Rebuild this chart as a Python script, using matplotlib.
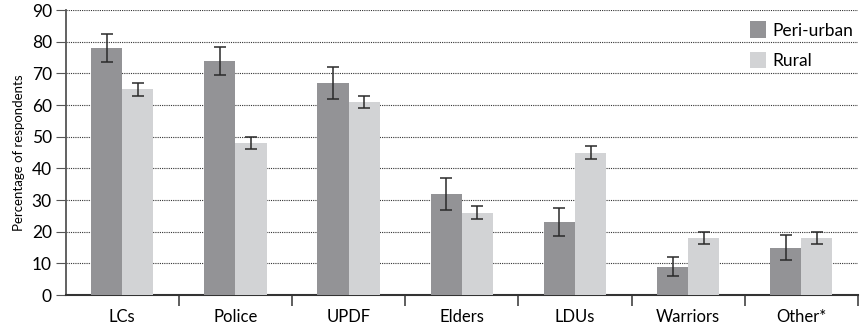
import numpy as np
import matplotlib.pyplot as plt
from matplotlib.ticker import FixedLocator, NullFormatter

categories = ['LCs', 'Police', 'UPDF', 'Elders', 'LDUs', 'Warriors', 'Other*']
peri_urban = [78, 74, 67, 32, 23, 9, 15]
peri_urban_err = [4.5, 4.5, 5, 5, 4.5, 3, 4]
rural = [65, 48, 61, 26, 45, 18, 18]
rural_err = [2, 2, 2, 2, 2, 2, 2]

plt.rcParams['font.family'] = ['Lato', 'DejaVu Sans']

fig = plt.figure(figsize=(8.64, 3.26), dpi=100)
ax = fig.add_axes([0.076, 0.095, 0.917, 0.874])

x = np.arange(len(categories))
w = 0.275
err_kw = dict(ecolor='#2a2a2a', elinewidth=1.1, capsize=4.5, capthick=1.1)
ax.bar(x - w / 2, peri_urban, w, yerr=peri_urban_err, color='#939396',
       label='Peri-urban', error_kw=err_kw, zorder=3)
ax.bar(x + w / 2, rural, w, yerr=rural_err, color='#d2d3d5',
       label='Rural', error_kw=err_kw, zorder=3)

ax.set_xlim(-0.5, len(categories) - 0.5)
ax.set_ylim(0, 90)
ax.set_yticks(range(0, 91, 10))
ax.yaxis.grid(True, linestyle=(0, (1, 1)), color='#333333', linewidth=0.8, zorder=0)
ax.set_axisbelow(True)

# category labels centred, ticks at category boundaries
ax.set_xticks(x)
ax.set_xticklabels(categories, fontsize=12)
ax.tick_params(axis='x', which='major', length=0, pad=10)
ax.xaxis.set_minor_locator(FixedLocator(np.arange(0.5, len(categories), 1.0)))
ax.xaxis.set_minor_formatter(NullFormatter())
ax.tick_params(axis='x', which='minor', length=8, width=1.1, color='#333333', direction='out')
ax.tick_params(axis='y', length=7, width=0.8, color='#555555', labelsize=12.5, pad=3)

for s in ['top', 'right']:
    ax.spines[s].set_visible(False)
ax.spines['left'].set_color('#555555')
ax.spines['left'].set_linewidth(1.3)
ax.spines['bottom'].set_color('#333333')
ax.spines['bottom'].set_linewidth(1.5)

ax.set_ylabel('Percentage of respondents', fontsize=9.5, labelpad=5)

ax.legend(loc='upper right', frameon=False, fontsize=12.5, handlelength=0.9,
          handleheight=1.1, handletextpad=0.4, labelspacing=0.75,
          borderaxespad=0.0, bbox_to_anchor=(1.003, 0.985))

fig.savefig('out.png', dpi=100)
